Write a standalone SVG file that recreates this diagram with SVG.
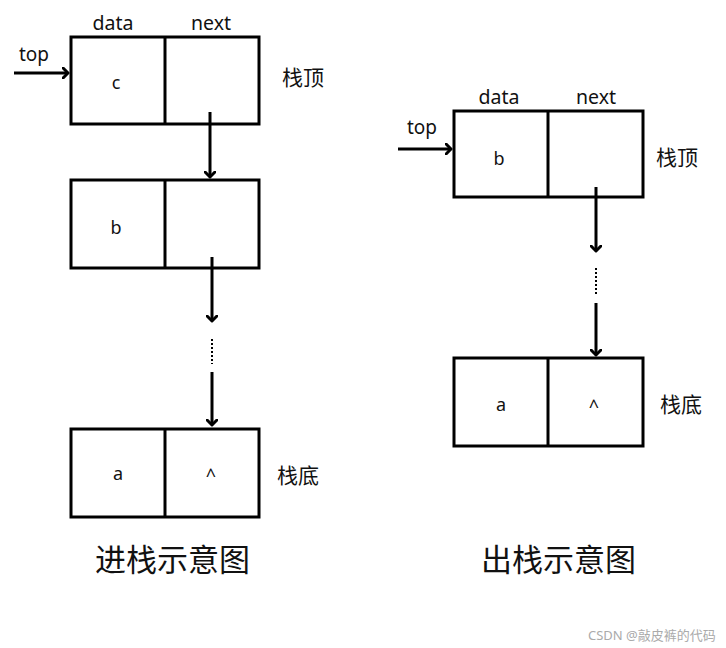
<svg xmlns="http://www.w3.org/2000/svg" width="726" height="648" viewBox="0 0 726 648">
<style>
.box{fill:#fff;stroke:#000;stroke-width:3}
.div{stroke:#000;stroke-width:3}
.ln{stroke:#000;stroke-width:3;fill:none}
.head{stroke:#000;stroke-width:3;fill:none;stroke-linecap:round;stroke-linejoin:round}
.dot{stroke:#000;stroke-width:2;stroke-dasharray:2 2;fill:none}
.t{font-family:"Noto Sans","Noto Sans CJK SC",sans-serif;font-size:19px;fill:#111}
.h{font-family:"Noto Sans","Noto Sans CJK SC",sans-serif;font-size:19.5px;fill:#111;text-anchor:middle}
.v{font-family:"Noto Sans","Noto Sans CJK SC",sans-serif;font-size:18px;fill:#111;text-anchor:middle}
.cn{font-family:"Noto Sans CJK SC",sans-serif;font-size:21px;fill:#111}
.title{font-family:"Noto Sans CJK SC",sans-serif;font-size:31px;fill:#111}
.wm{font-family:"Noto Sans","Noto Sans CJK SC",sans-serif;font-size:13px;fill:#aaa}
</style>
<defs>
<marker id="ah" markerWidth="12" markerHeight="12" refX="6" refY="6" orient="auto" markerUnits="userSpaceOnUse">
<path d="M1,1 L6,6 L1,11" class="head" stroke-width="2.6"/>
</marker>
</defs>
<rect width="726" height="648" fill="#fff"/>

<!-- left: push -->
<g id="push-node-c">
<rect class="box" x="71" y="37" width="188" height="87"/>
<line class="div" x1="165" y1="37" x2="165" y2="124"/>
<text class="h" x="113" y="30">data</text>
<text class="h" x="211" y="30">next</text>
<text class="v" x="116" y="89">c</text>
<text class="cn" x="282" y="85">栈顶</text>
</g>
<g id="push-node-b">
<rect class="box" x="71" y="180" width="188" height="88"/>
<line class="div" x1="165" y1="180" x2="165" y2="268"/>
<text class="v" x="116" y="234">b</text>
</g>
<g id="push-node-a">
<rect class="box" x="71" y="429" width="188" height="88"/>
<line class="div" x1="165" y1="429" x2="165" y2="517"/>
<text class="v" x="118" y="480">a</text>
<text class="v" x="211" y="482">^</text>
<text class="cn" x="277" y="483">栈底</text>
</g>
<text class="t" x="19" y="61">top</text>
<text class="title" x="95" y="571">进栈示意图</text>

<!-- right: pop -->
<g id="pop-node-b">
<rect class="box" x="454" y="111" width="189" height="86"/>
<line class="div" x1="548" y1="111" x2="548" y2="197"/>
<text class="h" x="499" y="104">data</text>
<text class="h" x="596" y="104">next</text>
<text class="v" x="499" y="165">b</text>
<text class="cn" x="656" y="165">栈顶</text>
</g>
<g id="pop-node-a">
<rect class="box" x="454" y="358" width="189" height="88"/>
<line class="div" x1="548" y1="358" x2="548" y2="446"/>
<text class="v" x="501" y="411">a</text>
<text class="v" x="594" y="413">^</text>
<text class="cn" x="660" y="412">栈底</text>
</g>
<text class="t" x="407" y="134">top</text>
<text class="title" x="481" y="571">出栈示意图</text>

<g id="connectors">
<line class="ln" x1="14" y1="73" x2="68" y2="73" marker-end="url(#ah)"/>
<line class="ln" x1="210" y1="112" x2="210" y2="177" marker-end="url(#ah)"/>
<line class="ln" x1="212" y1="257" x2="212" y2="321" marker-end="url(#ah)"/>
<line class="dot" x1="212" y1="339" x2="212" y2="364"/>
<line class="ln" x1="212" y1="372" x2="212" y2="425" marker-end="url(#ah)"/>
<line class="ln" x1="398" y1="149" x2="451" y2="149" marker-end="url(#ah)"/>
<line class="ln" x1="596" y1="187" x2="596" y2="251" marker-end="url(#ah)"/>
<line class="dot" x1="596" y1="268" x2="596" y2="294"/>
<line class="ln" x1="596" y1="303" x2="596" y2="355" marker-end="url(#ah)"/>
</g>

<text class="wm" x="588" y="640">CSDN @敲皮裤的代码</text>
</svg>
